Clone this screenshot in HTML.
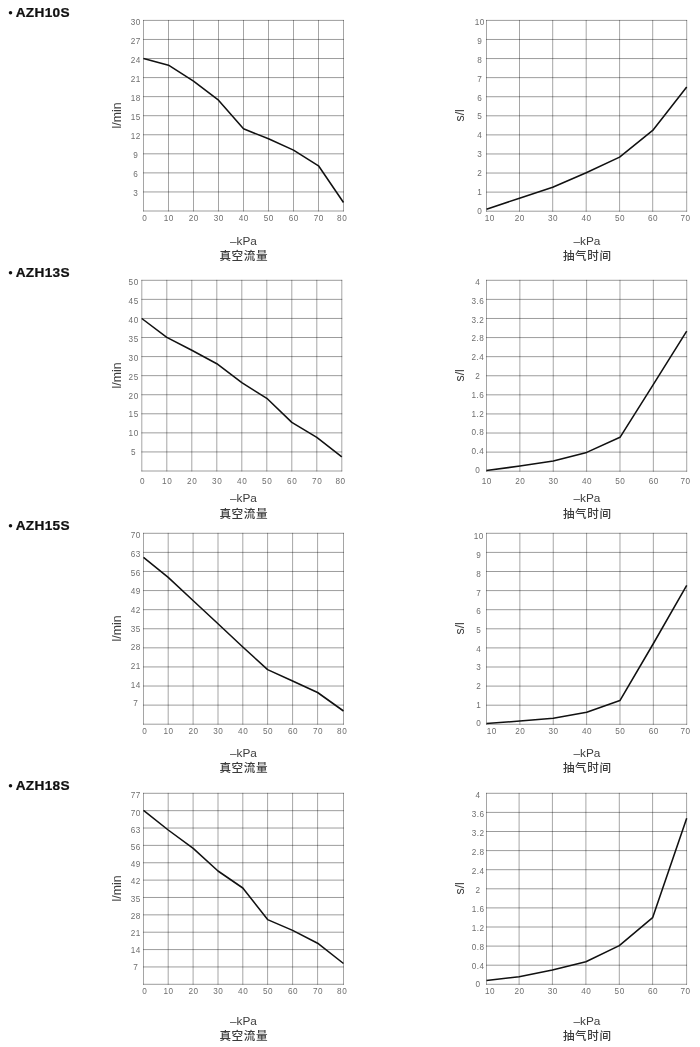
<!DOCTYPE html>
<html lang="zh-CN">
<head>
<meta charset="utf-8">
<title>AZH 真空流量 / 抽气时间</title>
<style>
html,body{margin:0;padding:0;background:#fff;}
body{width:700px;height:1047px;overflow:hidden;font-family:"Liberation Sans","Noto Sans CJK SC",sans-serif;}
svg{display:block;}
.grid{fill:none;}
.gv{stroke:#000;stroke-opacity:0.576;stroke-width:0.62;}
.gh{stroke:#000;stroke-opacity:0.541;stroke-width:0.72;}
.curve{fill:none;stroke:#111;stroke-width:1.55;stroke-linejoin:round;stroke-linecap:butt;}
.tk{font-family:"Liberation Sans",sans-serif;font-size:8.2px;fill:#6e6e6e;text-anchor:middle;letter-spacing:0.5px;}
.un{font-family:"Liberation Sans",sans-serif;font-size:12.3px;fill:#3c3c3c;text-anchor:middle;}
.kpa{font-family:"Liberation Sans",sans-serif;font-size:11.8px;fill:#3c3c3c;text-anchor:middle;}
.cn{font-family:"Liberation Sans","Noto Sans CJK SC",sans-serif;font-size:11.6px;font-weight:500;fill:#3c3c3c;text-anchor:middle;letter-spacing:0.6px;}
.ttl{font-family:"Liberation Sans",sans-serif;font-size:12.4px;font-weight:bold;fill:#111;stroke:#111;stroke-width:0.25px;letter-spacing:0.3px;}
</style>
</head>
<body>
<svg width="700" height="1047" viewBox="0 0 700 1047">
<rect width="700" height="1047" fill="#fff"/>
<circle cx="10.5" cy="12.8" r="1.75" fill="#111"/>
<text transform="translate(15.7 17.3) scale(1.1 1)" class="ttl">AZH10S</text>
<circle cx="10.5" cy="272.8" r="1.75" fill="#111"/>
<text transform="translate(15.7 277.3) scale(1.1 1)" class="ttl">AZH13S</text>
<circle cx="10.5" cy="525.8" r="1.75" fill="#111"/>
<text transform="translate(15.7 530.3) scale(1.1 1)" class="ttl">AZH15S</text>
<circle cx="10.5" cy="785.8" r="1.75" fill="#111"/>
<text transform="translate(15.7 790.3) scale(1.1 1)" class="ttl">AZH18S</text>
<path d="M143.50 20.00V211.40M168.50 20.00V211.40M193.50 20.00V211.40M218.50 20.00V211.40M243.50 20.00V211.40M268.50 20.00V211.40M293.50 20.00V211.40M318.50 20.00V211.40M343.50 20.00V211.40" class="grid gv"/>
<path d="M143.10 20.40H343.90M143.10 39.46H343.90M143.10 58.52H343.90M143.10 77.58H343.90M143.10 96.64H343.90M143.10 115.70H343.90M143.10 134.76H343.90M143.10 153.82H343.90M143.10 172.88H343.90M143.10 191.94H343.90M143.10 211.00H343.90" class="grid gh"/>
<path d="M143.5 58.5L168.5 65.2L193.5 81.2L218.5 100.2L243.5 128.8L268.5 138.8L293.5 150.1L318.5 165.8L343.5 202.5" class="curve"/>
<text x="135.85" y="24.9" class="tk">30</text>
<text x="135.85" y="43.9" class="tk">27</text>
<text x="135.85" y="63.0" class="tk">24</text>
<text x="135.85" y="82.0" class="tk">21</text>
<text x="135.85" y="101.0" class="tk">18</text>
<text x="135.85" y="120.1" class="tk">15</text>
<text x="135.85" y="139.1" class="tk">12</text>
<text x="135.85" y="158.1" class="tk">9</text>
<text x="135.85" y="177.2" class="tk">6</text>
<text x="135.85" y="196.2" class="tk">3</text>
<text x="144.85" y="220.9" class="tk">0</text>
<text x="168.85" y="220.9" class="tk">10</text>
<text x="193.85" y="220.9" class="tk">20</text>
<text x="218.85" y="220.9" class="tk">30</text>
<text x="243.85" y="220.9" class="tk">40</text>
<text x="268.85" y="220.9" class="tk">50</text>
<text x="293.85" y="220.9" class="tk">60</text>
<text x="318.85" y="220.9" class="tk">70</text>
<text x="342.15" y="220.9" class="tk">80</text>
<text transform="translate(120.6 115.5) rotate(-90)" class="un">l/min</text>
<text x="243.5" y="244.9" class="kpa">–kPa</text>
<text x="243.8" y="260.2" class="cn">真空流量</text>
<path d="M486.50 20.00V211.60M519.50 20.00V211.60M552.70 20.00V211.60M586.20 20.00V211.60M619.60 20.00V211.60M652.70 20.00V211.60M686.70 20.00V211.60" class="grid gv"/>
<path d="M486.10 20.40H687.10M486.10 39.48H687.10M486.10 58.56H687.10M486.10 77.64H687.10M486.10 96.72H687.10M486.10 115.80H687.10M486.10 134.88H687.10M486.10 153.96H687.10M486.10 173.04H687.10M486.10 192.12H687.10M486.10 211.20H687.10" class="grid gh"/>
<path d="M486.5 209.2L519.5 198.2L552.7 187.3L586.2 172.7L619.6 157.1L652.7 130.4L686.7 87.1" class="curve"/>
<text x="479.85" y="24.9" class="tk">10</text>
<text x="479.85" y="43.8" class="tk">9</text>
<text x="479.85" y="62.7" class="tk">8</text>
<text x="479.85" y="81.6" class="tk">7</text>
<text x="479.85" y="100.5" class="tk">6</text>
<text x="479.85" y="119.4" class="tk">5</text>
<text x="479.85" y="138.3" class="tk">4</text>
<text x="479.85" y="157.2" class="tk">3</text>
<text x="479.85" y="176.1" class="tk">2</text>
<text x="479.85" y="195.0" class="tk">1</text>
<text x="479.85" y="213.9" class="tk">0</text>
<text x="489.85" y="220.9" class="tk">10</text>
<text x="519.85" y="220.9" class="tk">20</text>
<text x="553.05" y="220.9" class="tk">30</text>
<text x="586.55" y="220.9" class="tk">40</text>
<text x="619.95" y="220.9" class="tk">50</text>
<text x="653.05" y="220.9" class="tk">60</text>
<text x="685.55" y="220.9" class="tk">70</text>
<text transform="translate(463.8 115.3) rotate(-90)" class="un">s/l</text>
<text x="587.0" y="244.9" class="kpa">–kPa</text>
<text x="587.3" y="260.2" class="cn">抽气时间</text>
<path d="M141.80 279.90V471.40M166.80 279.90V471.40M191.80 279.90V471.40M216.80 279.90V471.40M241.80 279.90V471.40M266.80 279.90V471.40M291.80 279.90V471.40M316.80 279.90V471.40M341.80 279.90V471.40" class="grid gv"/>
<path d="M141.40 280.30H342.20M141.40 299.37H342.20M141.40 318.44H342.20M141.40 337.51H342.20M141.40 356.58H342.20M141.40 375.65H342.20M141.40 394.72H342.20M141.40 413.79H342.20M141.40 432.86H342.20M141.40 451.93H342.20M141.40 471.00H342.20" class="grid gh"/>
<path d="M141.8 318.5L166.8 337.4L191.8 350.3L216.8 363.7L241.8 382.7L266.8 398.3L291.8 422.4L316.8 437.3L341.8 456.8" class="curve"/>
<text x="133.65" y="285.2" class="tk">50</text>
<text x="133.65" y="304.1" class="tk">45</text>
<text x="133.65" y="323.0" class="tk">40</text>
<text x="133.65" y="341.9" class="tk">35</text>
<text x="133.65" y="360.8" class="tk">30</text>
<text x="133.65" y="379.6" class="tk">25</text>
<text x="133.65" y="398.5" class="tk">20</text>
<text x="133.65" y="417.4" class="tk">15</text>
<text x="133.65" y="436.3" class="tk">10</text>
<text x="133.65" y="455.2" class="tk">5</text>
<text x="142.65" y="483.9" class="tk">0</text>
<text x="167.15" y="483.9" class="tk">10</text>
<text x="192.15" y="483.9" class="tk">20</text>
<text x="217.15" y="483.9" class="tk">30</text>
<text x="242.15" y="483.9" class="tk">40</text>
<text x="267.15" y="483.9" class="tk">50</text>
<text x="292.15" y="483.9" class="tk">60</text>
<text x="317.15" y="483.9" class="tk">70</text>
<text x="340.45" y="483.9" class="tk">80</text>
<text transform="translate(120.6 375.5) rotate(-90)" class="un">l/min</text>
<text x="243.5" y="502.4" class="kpa">–kPa</text>
<text x="243.8" y="518.0" class="cn">真空流量</text>
<path d="M486.50 279.90V471.60M519.87 279.90V471.60M553.24 279.90V471.60M586.61 279.90V471.60M619.98 279.90V471.60M653.35 279.90V471.60M686.72 279.90V471.60" class="grid gv"/>
<path d="M486.10 280.30H687.12M486.10 299.39H687.12M486.10 318.48H687.12M486.10 337.57H687.12M486.10 356.66H687.12M486.10 375.75H687.12M486.10 394.84H687.12M486.10 413.93H687.12M486.10 433.02H687.12M486.10 452.11H687.12M486.10 471.20H687.12" class="grid gh"/>
<path d="M486.4 470.4L519.9 466.1L553.3 461.1L586.7 452.4L620.0 437.3L653.4 384.3L686.7 331.1" class="curve"/>
<text x="477.85" y="284.9" class="tk">4</text>
<text x="477.85" y="303.7" class="tk">3.6</text>
<text x="477.85" y="322.5" class="tk">3.2</text>
<text x="477.85" y="341.3" class="tk">2.8</text>
<text x="477.85" y="360.1" class="tk">2.4</text>
<text x="477.85" y="378.9" class="tk">2</text>
<text x="477.85" y="397.7" class="tk">1.6</text>
<text x="477.85" y="416.5" class="tk">1.2</text>
<text x="477.85" y="435.3" class="tk">0.8</text>
<text x="477.85" y="454.1" class="tk">0.4</text>
<text x="477.85" y="472.9" class="tk">0</text>
<text x="486.85" y="483.9" class="tk">10</text>
<text x="520.22" y="483.9" class="tk">20</text>
<text x="553.59" y="483.9" class="tk">30</text>
<text x="586.96" y="483.9" class="tk">40</text>
<text x="620.33" y="483.9" class="tk">50</text>
<text x="653.70" y="483.9" class="tk">60</text>
<text x="685.57" y="483.9" class="tk">70</text>
<text transform="translate(463.8 375.3) rotate(-90)" class="un">s/l</text>
<text x="587.0" y="502.4" class="kpa">–kPa</text>
<text x="587.3" y="518.0" class="cn">抽气时间</text>
<path d="M143.50 532.90V724.60M168.20 532.90V724.60M193.10 532.90V724.60M218.00 532.90V724.60M242.80 532.90V724.60M267.60 532.90V724.60M292.60 532.90V724.60M317.60 532.90V724.60M343.50 532.90V724.60" class="grid gv"/>
<path d="M143.10 533.30H343.90M143.10 552.39H343.90M143.10 571.48H343.90M143.10 590.57H343.90M143.10 609.66H343.90M143.10 628.75H343.90M143.10 647.84H343.90M143.10 666.93H343.90M143.10 686.02H343.90M143.10 705.11H343.90M143.10 724.20H343.90" class="grid gh"/>
<path d="M143.5 557.4L168.2 577.4L193.0 600.5L218.0 623.8L242.8 647.0L267.6 669.6L292.6 681.0L317.6 692.5L343.5 711.0" class="curve"/>
<text x="135.85" y="538.4" class="tk">70</text>
<text x="135.85" y="557.1" class="tk">63</text>
<text x="135.85" y="575.7" class="tk">56</text>
<text x="135.85" y="594.4" class="tk">49</text>
<text x="135.85" y="613.1" class="tk">42</text>
<text x="135.85" y="631.7" class="tk">35</text>
<text x="135.85" y="650.4" class="tk">28</text>
<text x="135.85" y="669.1" class="tk">21</text>
<text x="135.85" y="687.7" class="tk">14</text>
<text x="135.85" y="706.4" class="tk">7</text>
<text x="144.85" y="733.9" class="tk">0</text>
<text x="168.55" y="733.9" class="tk">10</text>
<text x="193.45" y="733.9" class="tk">20</text>
<text x="218.35" y="733.9" class="tk">30</text>
<text x="243.15" y="733.9" class="tk">40</text>
<text x="267.95" y="733.9" class="tk">50</text>
<text x="292.95" y="733.9" class="tk">60</text>
<text x="317.95" y="733.9" class="tk">70</text>
<text x="342.15" y="733.9" class="tk">80</text>
<text transform="translate(120.6 628.5) rotate(-90)" class="un">l/min</text>
<text x="243.5" y="756.6" class="kpa">–kPa</text>
<text x="243.8" y="772.1" class="cn">真空流量</text>
<path d="M486.50 532.90V724.70M519.87 532.90V724.70M553.24 532.90V724.70M586.61 532.90V724.70M619.98 532.90V724.70M653.35 532.90V724.70M686.72 532.90V724.70" class="grid gv"/>
<path d="M486.10 533.30H687.12M486.10 552.40H687.12M486.10 571.50H687.12M486.10 590.60H687.12M486.10 609.70H687.12M486.10 628.80H687.12M486.10 647.90H687.12M486.10 667.00H687.12M486.10 686.10H687.12M486.10 705.20H687.12M486.10 724.30H687.12" class="grid gh"/>
<path d="M486.5 723.6L519.9 721.0L553.3 718.2L586.7 712.2L619.9 700.6L653.4 643.5L686.7 585.4" class="curve"/>
<text x="478.85" y="539.4" class="tk">10</text>
<text x="478.85" y="558.1" class="tk">9</text>
<text x="478.85" y="576.8" class="tk">8</text>
<text x="478.85" y="595.5" class="tk">7</text>
<text x="478.85" y="614.2" class="tk">6</text>
<text x="478.85" y="632.9" class="tk">5</text>
<text x="478.85" y="651.6" class="tk">4</text>
<text x="478.85" y="670.3" class="tk">3</text>
<text x="478.85" y="689.0" class="tk">2</text>
<text x="478.85" y="707.7" class="tk">1</text>
<text x="478.85" y="726.4" class="tk">0</text>
<text x="491.85" y="733.9" class="tk">10</text>
<text x="520.22" y="733.9" class="tk">20</text>
<text x="553.59" y="733.9" class="tk">30</text>
<text x="586.96" y="733.9" class="tk">40</text>
<text x="620.33" y="733.9" class="tk">50</text>
<text x="653.70" y="733.9" class="tk">60</text>
<text x="685.57" y="733.9" class="tk">70</text>
<text transform="translate(463.8 628.3) rotate(-90)" class="un">s/l</text>
<text x="587.0" y="756.6" class="kpa">–kPa</text>
<text x="587.3" y="772.1" class="cn">抽气时间</text>
<path d="M143.50 792.90V984.70M168.20 792.90V984.70M193.10 792.90V984.70M218.00 792.90V984.70M242.80 792.90V984.70M267.60 792.90V984.70M292.60 792.90V984.70M317.60 792.90V984.70M343.50 792.90V984.70" class="grid gv"/>
<path d="M143.10 793.30H343.90M143.10 810.66H343.90M143.10 828.03H343.90M143.10 845.39H343.90M143.10 862.75H343.90M143.10 880.12H343.90M143.10 897.48H343.90M143.10 914.85H343.90M143.10 932.21H343.90M143.10 949.57H343.90M143.10 966.94H343.90M143.10 984.30H343.90" class="grid gh"/>
<path d="M143.5 810.4L168.2 830.0L193.2 848.4L218.0 871.0L242.8 888.0L267.6 919.6L292.6 930.4L317.6 943.2L343.5 963.5" class="curve"/>
<text x="135.75" y="798.4" class="tk">77</text>
<text x="135.75" y="815.6" class="tk">70</text>
<text x="135.75" y="832.8" class="tk">63</text>
<text x="135.75" y="849.9" class="tk">56</text>
<text x="135.75" y="867.1" class="tk">49</text>
<text x="135.75" y="884.3" class="tk">42</text>
<text x="135.75" y="901.5" class="tk">35</text>
<text x="135.75" y="918.7" class="tk">28</text>
<text x="135.75" y="935.8" class="tk">21</text>
<text x="135.75" y="953.0" class="tk">14</text>
<text x="135.75" y="970.2" class="tk">7</text>
<text x="144.85" y="993.9" class="tk">0</text>
<text x="168.55" y="993.9" class="tk">10</text>
<text x="193.45" y="993.9" class="tk">20</text>
<text x="218.35" y="993.9" class="tk">30</text>
<text x="243.15" y="993.9" class="tk">40</text>
<text x="267.95" y="993.9" class="tk">50</text>
<text x="292.95" y="993.9" class="tk">60</text>
<text x="317.95" y="993.9" class="tk">70</text>
<text x="342.15" y="993.9" class="tk">80</text>
<text transform="translate(120.6 888.5) rotate(-90)" class="un">l/min</text>
<text x="243.5" y="1024.5" class="kpa">–kPa</text>
<text x="243.8" y="1040.1" class="cn">真空流量</text>
<path d="M486.50 792.90V984.70M519.10 792.90V984.70M552.40 792.90V984.70M585.90 792.90V984.70M619.30 792.90V984.70M652.60 792.90V984.70M686.60 792.90V984.70" class="grid gv"/>
<path d="M486.10 793.30H687.00M486.10 812.40H687.00M486.10 831.50H687.00M486.10 850.60H687.00M486.10 869.70H687.00M486.10 888.80H687.00M486.10 907.90H687.00M486.10 927.00H687.00M486.10 946.10H687.00M486.10 965.20H687.00M486.10 984.30H687.00" class="grid gh"/>
<path d="M486.5 980.6L519.1 976.7L552.4 970.1L585.9 961.7L619.3 945.6L652.6 917.7L686.7 818.3" class="curve"/>
<text x="478.15" y="798.4" class="tk">4</text>
<text x="478.15" y="817.3" class="tk">3.6</text>
<text x="478.15" y="836.2" class="tk">3.2</text>
<text x="478.15" y="855.1" class="tk">2.8</text>
<text x="478.15" y="874.0" class="tk">2.4</text>
<text x="478.15" y="892.9" class="tk">2</text>
<text x="478.15" y="911.8" class="tk">1.6</text>
<text x="478.15" y="930.7" class="tk">1.2</text>
<text x="478.15" y="949.6" class="tk">0.8</text>
<text x="478.15" y="968.5" class="tk">0.4</text>
<text x="478.15" y="987.4" class="tk">0</text>
<text x="490.05" y="993.9" class="tk">10</text>
<text x="519.45" y="993.9" class="tk">20</text>
<text x="552.75" y="993.9" class="tk">30</text>
<text x="586.25" y="993.9" class="tk">40</text>
<text x="619.65" y="993.9" class="tk">50</text>
<text x="652.95" y="993.9" class="tk">60</text>
<text x="685.45" y="993.9" class="tk">70</text>
<text transform="translate(463.8 888.3) rotate(-90)" class="un">s/l</text>
<text x="587.0" y="1024.5" class="kpa">–kPa</text>
<text x="587.3" y="1040.1" class="cn">抽气时间</text>
</svg>
</body>
</html>
